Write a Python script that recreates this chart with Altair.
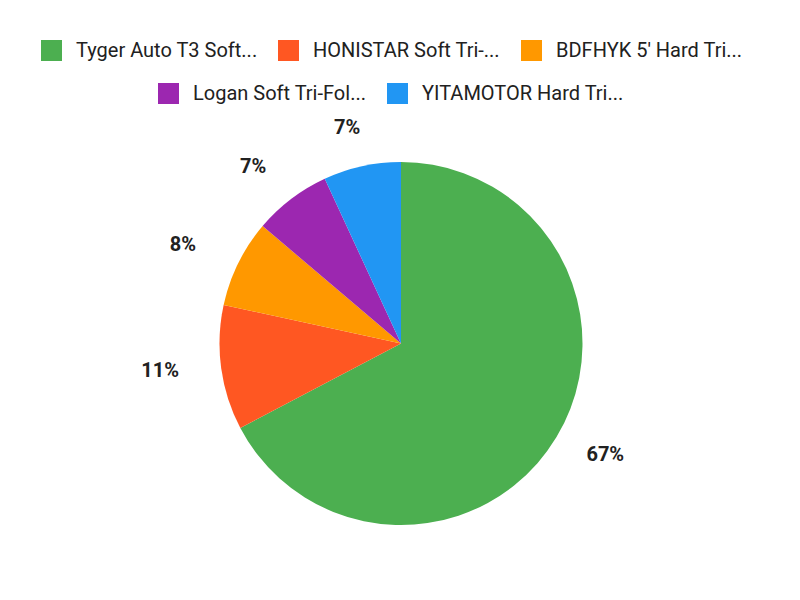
import altair as alt
import pandas as pd

names = ["Tyger Auto T3 Soft...", "HONISTAR Soft Tri-...", "BDFHYK 5' Hard Tri...",
         "Logan Soft Tri-Fol...", "YITAMOTOR Hard Tri..."]
shares = [67.3, 11.1, 7.8, 6.9, 6.9]
labels = ["67%", "11%", "8%", "7%", "7%"]
colors = ["#4CAF50", "#FF5722", "#FF9800", "#9C27B0", "#2196F3"]

df = pd.DataFrame({"name": names, "share": shares, "label": labels, "idx": list(range(len(names)))})

CX, CY = 393, 335.5
theta_scale = alt.Scale(domain=[0, 100], range=[0, 6.283185307179586])

base = (
    alt.Chart(df)
    .transform_window(end="sum(share)", sort=[alt.SortField("idx")], frame=[None, 0])
    .transform_calculate(start="datum.end - datum.share", mid="datum.end - datum.share / 2")
)

def arcs(group_names, group_colors, lx, ly):
    return base.transform_filter(
        alt.FieldOneOfPredicate(field="name", oneOf=group_names)
    ).mark_arc(outerRadius=181.5, innerRadius=0).encode(
        theta=alt.Theta("start:Q", scale=theta_scale),
        theta2="end:Q",
        x=alt.value(CX),
        y=alt.value(CY),
        color=alt.Color(
            "name:N",
            title=None,
            scale=alt.Scale(domain=group_names, range=group_colors),
            legend=alt.Legend(orient="none", legendX=lx, legendY=ly, direction="horizontal"),
        ),
    )

arcs1 = arcs(names[:3], colors[:3], 33, 32)
arcs2 = arcs(names[3:], colors[3:], 150, 75)

# labels sit on an ellipse just outside the pie (wider horizontally for text width)
text = base.transform_calculate(
    ang="datum.mid / 100 * 2 * PI",
).transform_calculate(
    lx=f"{CX - 2} + 241 * sin(datum.ang)",
    ly=f"{CY - 2} - 219 * cos(datum.ang)",
).mark_text(
    font="Roboto", fontSize=20, fontWeight="bold", color="#212121"
).encode(
    x=alt.X("lx:Q", scale=None),
    y=alt.Y("ly:Q", scale=None),
    text="label:N",
)

chart = (
    alt.layer(arcs1, arcs2, text)
    .resolve_scale(color="independent")
    .properties(width=784, height=584, autosize="none", padding=0)
    .configure_view(stroke=None)
    .configure_legend(
        labelFont="Roboto",
        labelFontSize=20,
        labelColor="#212121",
        symbolType="square",
        symbolSize=441,
        symbolStrokeWidth=0,
        columnPadding=20,
        labelOffset=14,
        labelLimit=400,
        padding=0,
    )
)

chart.save("out.html", embed_options={"renderer": "svg", "actions": False})
